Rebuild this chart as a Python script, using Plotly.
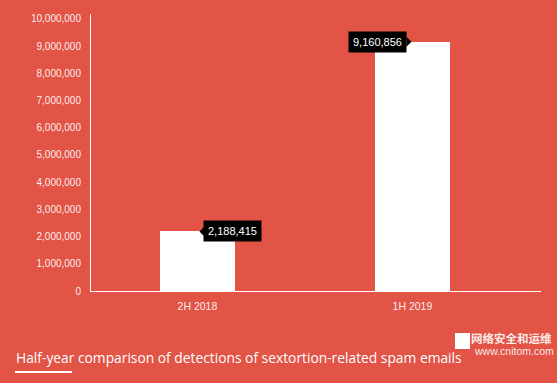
import plotly.graph_objects as go

categories = ["2H 2018", "1H 2019"]
detections = [2188415, 9160856]
y_ticks = [0, 1000000, 2000000, 3000000, 4000000, 5000000, 6000000, 7000000, 8000000, 9000000, 10000000]
y_tick_labels = [f"{v:,}" for v in y_ticks]
title_text = "Half-year comparison of detections of sextortion-related spam emails"

BG = "#E15446"
TXT = "rgba(255,255,255,0.92)"
W, H = 557, 383
L, R, T, B = 91, 16, 14, 92
PW, PH = W - L - R, H - T - B


def px_x(x):
    return (x - L) / PW


def px_y(y):
    return (H - B - y) / PH


fig = go.Figure()
fig.add_trace(go.Bar(
    x=categories, y=detections,
    marker=dict(color="white", line=dict(width=0)),
    width=0.35, hoverinfo="skip",
))

# value labels (black tooltip-like boxes)
anchors = ["left", "right"]
for i, (cat, val) in enumerate(zip(categories, detections)):
    side = anchors[i]
    fig.add_annotation(
        x=cat, y=val, xref="x", yref="y",
        text=f"{val:,}", showarrow=False,
        xanchor=side, yanchor="middle",
        xshift=6 if side == "left" else -5,
        bgcolor="black", borderpad=4,
        font=dict(family="Liberation Sans, Arial", size=11, color="white"),
    )
    path = "M 7 -5 L 7 5 L 2 0 Z" if side == "left" else "M -6 -5 L -6 5 L -1 0 Z"
    fig.add_shape(
        type="path", xref="x", yref="y", xsizemode="pixel", ysizemode="pixel",
        xanchor=i, yanchor=val,
        path=path, fillcolor="black", line=dict(width=0),
    )

fig.update_layout(
    width=W, height=H,
    paper_bgcolor=BG, plot_bgcolor=BG,
    margin=dict(l=L, r=R, t=T, b=B),
    showlegend=False,
    bargap=0,
    xaxis=dict(
        type="category", range=[-0.495, 1.598],
        showline=True, linecolor="white", linewidth=1,
        showgrid=False, zeroline=False,
        ticks="outside", ticklen=5, tickcolor="rgba(0,0,0,0)",
        tickfont=dict(family="Liberation Sans, Arial", size=10.5, color=TXT),
    ),
    yaxis=dict(
        range=[0, 10180000],
        tickvals=y_ticks, ticktext=y_tick_labels,
        showline=True, linecolor="white", linewidth=1,
        showgrid=False, zeroline=False,
        ticks="outside", ticklen=7, tickcolor="rgba(0,0,0,0)",
        tickfont=dict(family="Liberation Sans, Arial", size=10, color=TXT),
    ),
    font=dict(family="Liberation Sans, Arial", color="white"),
)

# bottom title
fig.add_annotation(
    text=title_text, xref="paper", yref="paper",
    x=px_x(14), y=px_y(358), xanchor="left", yanchor="middle",
    showarrow=False,
    font=dict(family="Open Sans, Noto Sans", size=13.8, color="white"),
)
fig.add_shape(
    type="line", xref="paper", yref="paper",
    x0=px_x(15), x1=px_x(72), y0=px_y(372), y1=px_y(372),
    line=dict(color="white", width=2),
)

# watermark
fig.add_annotation(
    text="<b>网络安全和运维</b>", xref="paper", yref="paper",
    x=px_x(554), y=px_y(338), xanchor="right", yanchor="middle",
    showarrow=False,
    font=dict(family="Noto Sans CJK SC", size=11.5, color="rgba(255,255,255,0.9)"),
)
fig.add_annotation(
    text="www.cnitom.com", xref="paper", yref="paper",
    x=px_x(556), y=px_y(350.5), xanchor="right", yanchor="middle",
    showarrow=False,
    font=dict(family="Liberation Sans, Arial", size=10.5, color="rgba(255,255,255,0.9)"),
)
fig.add_shape(
    type="rect", xref="paper", yref="paper",
    x0=px_x(455), x1=px_x(470), y0=px_y(349), y1=px_y(333),
    fillcolor="white", line=dict(width=0),
)

fig.write_html("out.html", config={"displayModeBar": False},
               post_script="document.body.style.margin='0';")
